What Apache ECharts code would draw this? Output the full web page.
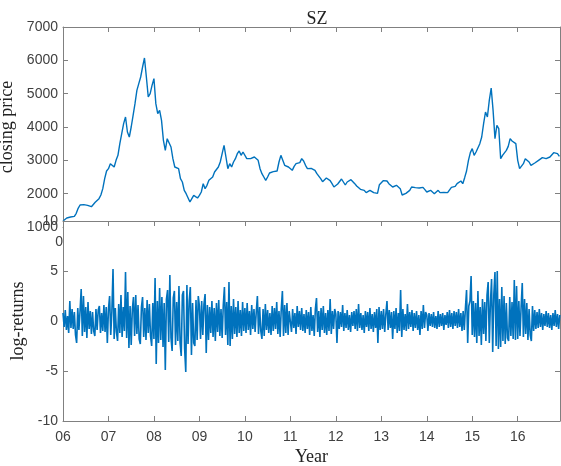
<!DOCTYPE html>
<html>
<head>
<meta charset="utf-8">
<script src="https://cdn.jsdelivr.net/npm/echarts@6/dist/echarts.min.js"></script>
<style>
  html, body { margin: 0; padding: 0; background: #fff; }
  #chart { width: 561px; height: 466px; }
</style>
</head>
<body>
<div id="chart"></div>
<script>
// SZ closing price (two readings per month) and log-returns (40 readings per year)
const years = [2006, 2007, 2008, 2009, 2010, 2011, 2012, 2013, 2014, 2015, 2016];

const p2006 = [1180, 1230, 1270, 1290, 1300, 1290, 1320, 1410, 1560, 1660, 1620, 1670, 1700, 1650, 1590, 1610, 1660, 1740, 1800, 1850, 1960, 2150, 2450, 2680];
const p2007 = [2750, 2900, 2850, 2800, 3000, 3150, 3500, 3800, 4100, 4300, 3850, 3700, 4000, 4350, 4700, 5100, 5300, 5500, 5800, 6070, 5500, 4900, 5000, 5250];
const p2008 = [5450, 4700, 4400, 4500, 4200, 3600, 3300, 3650, 3600, 3400, 3050, 2800, 2850, 2750, 2450, 2350, 2100, 2000, 1980, 1750, 1850, 1950, 2000, 1870];
const p2009 = [1950, 2050, 2300, 2150, 2250, 2400, 2450, 2500, 2650, 2700, 2800, 2950, 3200, 3450, 3100, 2750, 2900, 2800, 2950, 3050, 3200, 3280, 3150, 3250];
const p2010 = [3200, 3050, 3000, 3050, 3080, 3100, 3160, 3000, 2750, 2600, 2500, 2400, 2500, 2620, 2650, 2660, 2620, 2680, 2950, 3150, 3000, 2850, 2900, 2800];
const p2011 = [2750, 2700, 2820, 2900, 2950, 2930, 3050, 2980, 2850, 2750, 2700, 2760, 2800, 2700, 2600, 2570, 2450, 2360, 2340, 2470, 2480, 2390, 2300, 2200];
const p2012 = [2170, 2290, 2350, 2440, 2420, 2260, 2350, 2400, 2420, 2360, 2300, 2230, 2180, 2130, 2150, 2100, 2030, 2080, 2100, 2070, 2030, 1990, 2010, 2270];
const p2013 = [2320, 2390, 2430, 2380, 2300, 2240, 2200, 2180, 2250, 2300, 2150, 1960, 2000, 2010, 2050, 2100, 2200, 2230, 2180, 2150, 2170, 2200, 2190, 2120];
const p2014 = [2050, 2030, 2100, 2050, 2000, 2060, 2100, 2030, 2020, 2040, 2040, 2030, 2070, 2190, 2220, 2220, 2300, 2350, 2380, 2300, 2480, 2680, 3000, 3230];
const p2015 = [3350, 3150, 3250, 3300, 3500, 3700, 4100, 4450, 4300, 4800, 5170, 4500, 3650, 4050, 3950, 3050, 3150, 3100, 3300, 3420, 3650, 3580, 3600, 3500];
const p2016 = [3000, 2750, 2800, 2900, 3050, 3000, 2950, 2850, 2850, 2920, 2960, 3000, 3040, 3080, 3100, 3050, 3080, 3100, 3150, 3230, 3250, 3200, 3120];

const r2006 = [0.8,-0.6,1.1,-0.9,0.5,-1.2,2.0,-0.7,1.2,-0.8,0.9,-1.4,-2.2,1.3,-0.9,1.0,3.2,-1.5,2.5,-1.1,1.4,-1.7,1.9,-0.8,1.0,-1.3,0.9,-1.0,-1.5,1.2,-0.9,1.1,1.5,-1.2,0.8,-1.0,1.6,-1.1,1.4,-2.2];
const r2007 = [1.2,2.5,-1.4,1.0,5.2,-1.8,1.3,-1.1,-2.0,1.7,-1.2,2.6,-1.6,1.4,-1.0,4.9,-1.7,2.9,-2.7,1.5,-2.4,1.2,2.4,-1.5,2.6,-1.3,1.6,-1.8,-2.3,1.4,2.4,-1.6,1.3,-1.9,2.1,-1.2,1.7,-1.5,-2.5,1.8];
const r2008 = [-1.8,4.3,-4.3,2.0,-2.2,3.3,-1.9,2.4,-2.6,1.8,-4.9,2.2,3.1,-2.1,4.6,-1.7,-3.0,2.3,3.0,-2.4,1.9,-2.0,3.5,-2.2,-3.5,2.6,3.0,-2.8,-5.1,3.6,-2.3,2.0,3.4,-3.4,1.8,-2.2,-2.5,2.1,-1.9,2.5];
const r2009 = [1.5,-1.8,2.0,-1.4,1.7,2.7,-3.2,1.6,-1.9,1.4,-1.2,2.0,-1.6,1.3,-2.0,1.8,-1.1,2.1,-1.5,1.2,-1.7,1.6,3.4,-1.4,1.9,-2.4,3.9,-2.5,1.5,-1.8,2.2,-1.3,1.4,-1.6,2.0,-1.2,1.1,-1.5,1.9,-1.0];
const r2010 = [1.3,-1.2,1.8,-0.9,1.0,-1.4,1.6,-0.8,1.2,-1.1,0.9,2.5,-1.3,1.4,-1.0,-1.8,1.2,-1.5,1.7,-0.9,1.1,-1.2,0.8,-1.4,1.5,-1.0,1.3,-0.8,1.9,-1.3,1.0,-1.6,1.2,3.0,-1.5,1.6,-1.2,1.8,-1.4,1.0];
const r2011 = [0.9,-1.1,1.2,-0.7,0.8,-1.3,1.5,-0.6,1.0,-0.9,1.3,-1.0,0.7,-1.2,1.1,-0.8,0.9,-1.4,1.4,-1.0,0.6,-1.5,1.2,2.3,-1.1,1.0,-1.6,1.3,-0.9,1.5,-1.2,0.8,-1.4,1.1,-1.0,2.2,-1.3,1.0,-0.8,1.2];
const r2012 = [0.7,-2.2,1.0,-0.8,0.9,-0.6,1.6,-1.0,0.8,-0.7,1.1,-0.9,0.6,-1.1,0.9,-0.5,1.0,-0.8,1.2,-1.0,1.7,-0.7,0.8,-0.9,0.6,-1.2,1.0,-0.6,0.9,-1.0,1.3,-0.8,0.7,-1.1,0.9,-0.7,1.2,-2.2,1.4,-0.9];
const r2013 = [1.0,-0.8,1.2,-1.1,0.7,2.0,-0.9,1.1,-0.7,0.9,-1.8,1.0,-0.8,1.3,-1.2,0.8,-1.0,3.1,-1.6,1.2,-0.9,0.7,-1.0,1.7,-0.8,0.9,-0.6,1.1,-1.0,0.8,-0.7,1.0,-0.9,0.6,-1.4,1.0,-0.8,1.6,-0.7,0.9];
const r2014 = [0.6,-1.0,0.8,-0.5,0.7,-0.6,0.9,-0.7,0.5,-0.8,1.0,-0.6,0.7,-0.5,0.8,-0.9,0.6,-0.4,0.9,-0.7,1.1,-0.6,0.8,-0.8,1.0,-0.5,0.9,-0.7,1.2,-0.6,0.8,-1.0,1.0,-0.9,1.3,3.1,-2.2,1.5,2.0,4.5];
const r2015 = [-1.4,2.0,-1.6,1.8,-2.2,3.0,-1.5,1.4,-2.4,2.2,-1.3,1.9,-2.0,2.6,3.9,-2.2,1.8,4.2,-3.1,2.7,4.9,-2.5,5.0,-2.8,2.2,-2.6,3.4,-2.0,2.5,-2.3,1.8,-1.7,-2.0,2.4,-1.5,1.9,-1.8,4.1,-1.9,3.5];
const r2016 = [-1.8,2.0,-1.5,1.4,3.8,-1.6,2.2,-1.3,1.8,-1.9,1.2,-1.4,-2.0,1.5,-1.0,1.1,-0.8,0.9,-0.7,1.2,-0.6,0.8,-0.9,0.7,-0.5,1.0,-0.6,0.8,-0.7,0.6,-0.9,0.8,-0.5,1.1,-0.6,0.7,-0.8,0.6];

const priceByYear = [p2006, p2007, p2008, p2009, p2010, p2011, p2012, p2013, p2014, p2015, p2016];
const retByYear = [r2006, r2007, r2008, r2009, r2010, r2011, r2012, r2013, r2014, r2015, r2016];

// turn yearly readings into [fractional year, value] pairs
const toSeries = (byYear, perYear) => {
	const out = [];
	byYear.forEach((arr, i) => {
		arr.forEach((v, k) => out.push([years[i] + k / perYear, v]));
	});
	return out;
};

const priceData = toSeries(priceByYear, 24);
const retData = toSeries(retByYear, 40);

const lineCol = '#0072BD';
const axisCol = '#808080';
const labelCol = '#404040';
const sans = 'Arial, "Liberation Sans", sans-serif';
const serif = '"Liberation Serif", "Times New Roman", serif';

const xMin = 2006, xMax = 2016.93;
const yearLabel = v => Number.isInteger(v) ? String(v).slice(2) : '';
const plain = v => String(v);

const tickOnly = (extra) => Object.assign({
	axisLine: { show: true, onZero: false, lineStyle: { color: axisCol, width: 1 } },
	axisTick: { show: true, inside: true, length: 5, lineStyle: { color: axisCol } },
	axisLabel: { show: false },
	splitLine: { show: false }
}, extra);

const chart = echarts.init(document.getElementById('chart'));

const option = {
	animation: false,
	backgroundColor: '#fff',
	title: {
		text: 'SZ',
		left: 312,
		top: 5,
		textAlign: 'center',
		textStyle: { fontFamily: serif, fontSize: 18, fontWeight: 'normal', color: '#222' }
	},
	grid: [
		{ left: 63, right: 1, top: 27, height: 200, containLabel: false, outerBoundsMode: 'none' },
		{ left: 63, right: 1, top: 221, height: 200, containLabel: false, outerBoundsMode: 'none',
			show: true, backgroundColor: '#fff', borderWidth: 0, z: 1 }
	],
	xAxis: [
		tickOnly({
			type: 'value', gridIndex: 0, position: 'bottom', min: xMin, max: xMax, interval: 1,
			axisLabel: { show: true, formatter: v => v === 2006 ? '06' : '', color: labelCol, fontFamily: sans, fontSize: 14, margin: 8 }
		}),
		tickOnly({ type: 'value', gridIndex: 0, position: 'top', min: xMin, max: xMax, interval: 1 }),
		tickOnly({
			type: 'value', gridIndex: 1, position: 'bottom', min: xMin, max: xMax, interval: 1, z: 3,
			axisLabel: { show: true, formatter: yearLabel, color: labelCol, fontFamily: sans, fontSize: 14, margin: 9 },
			name: 'Year', nameLocation: 'middle', nameGap: 27,
			nameTextStyle: { fontFamily: serif, fontSize: 18, color: '#222' }
		}),
		tickOnly({ type: 'value', gridIndex: 1, position: 'top', min: xMin, max: xMax, interval: 1, z: 3 })
	],
	yAxis: [
		tickOnly({
			type: 'value', gridIndex: 0, position: 'left', min: 1000, max: 7000, interval: 1000,
			axisLabel: { show: true, formatter: plain, color: labelCol, fontFamily: sans, fontSize: 14, margin: 5 },
			name: 'closing price', nameLocation: 'middle', nameGap: 39,
			nameTextStyle: { fontFamily: serif, fontSize: 18, color: '#222' }
		}),
		tickOnly({ type: 'value', gridIndex: 0, position: 'right', min: 1000, max: 7000, interval: 1000 }),
		tickOnly({
			type: 'value', gridIndex: 1, position: 'left', min: -10, max: 10, interval: 5, z: 3,
			axisLabel: { show: true, formatter: plain, color: labelCol, fontFamily: sans, fontSize: 14, margin: 5 },
			name: 'log-returns', nameLocation: 'middle', nameGap: 32,
			nameTextStyle: { fontFamily: serif, fontSize: 18, color: '#222' }
		}),
		tickOnly({ type: 'value', gridIndex: 1, position: 'right', min: -10, max: 10, interval: 5, z: 3 })
	],
	series: [
		{
			name: 'closing price', type: 'line', xAxisIndex: 0, yAxisIndex: 0,
			data: priceData, showSymbol: false, symbol: 'none',
			lineStyle: { color: lineCol, width: 1.4 }, z: 2
		},
		{
			name: 'log-returns', type: 'line', xAxisIndex: 2, yAxisIndex: 2,
			data: retData, showSymbol: false, symbol: 'none',
			lineStyle: { color: lineCol, width: 1.6 }, z: 4
		}
	]
};

chart.setOption(option);
</script>
</body>
</html>
